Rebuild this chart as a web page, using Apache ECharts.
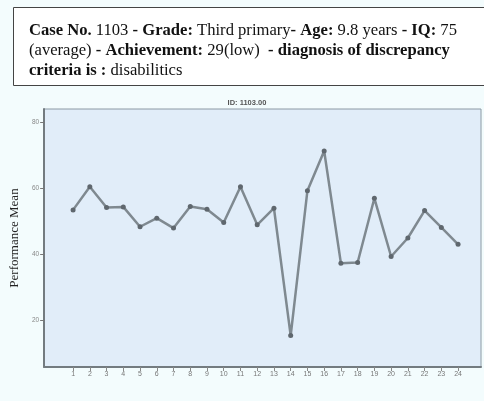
<!DOCTYPE html>
<html><head><meta charset="utf-8">
<script src="https://cdn.jsdelivr.net/npm/echarts@6/dist/echarts.min.js"></script>
<style>html,body{margin:0;padding:0;background:#f3fcfd;}#c{width:484px;height:401px;}</style>
</head><body><div id="c"></div>
<script>
const sessions = [1,2,3,4,5,6,7,8,9,10,11,12,13,14,15,16,17,18,19,20,21,22,23,24];
const performance = [53.5,60.5,54.2,54.4,48.4,51,48,54.5,53.7,49.7,60.5,49,54,15.5,59.3,71.3,37.4,37.6,57,39.4,45,53.3,48.2,43.1];
const yTicks = [20,40,60,80];
const chartTitle = 'ID: 1103.00';
const yName = 'Performance Mean';

const chart = echarts.init(document.getElementById('c'));
const serif = '"Liberation Serif","Times New Roman",serif';
chart.setOption({
  backgroundColor: '#f3fcfd',
  animation: false,
  title: {
    text: chartTitle, left: 242, top: 94, textAlign: 'center',
    textStyle: {fontSize: 7.5, fontWeight: 'bold', color: '#555', fontFamily: 'Arial'}
  },
  graphic: [
    {type: 'rect', shape: {x: 13.5, y: 7.5, width: 480, height: 78},
     style: {fill: '#ffffff', stroke: '#444', lineWidth: 1}},
    {type: 'text', left: 29, top: 21, style: {
      text: '{b|Case No.} 1103 {b|- Grade:} Third primary{b|- Age:} 9.8 years {b|- IQ:} 75\n(average) {b|- Achievement:} 29(low)  {b|- diagnosis of discrepancy}\n{b|criteria is :} disabilitics',
      font: '16.6px ' + serif, fill: '#111', lineHeight: 20,
      rich: {b: {fontWeight: 'bold', fontSize: 16.6, fontFamily: serif, fill: '#111', lineHeight: 20}}
    }}
  ],
  grid: {left: 41, top: 109, right: 3, bottom: 34, show: true,
    backgroundColor: '#e1edf9', borderColor: '#8c9aa4', borderWidth: 1},
  xAxis: {
    type: 'value', min: -0.73, max: 25.37,
    axisLine: {show: true, onZero: false, lineStyle: {color: '#737b80', width: 2}},
    axisTick: {show: true, customValues: sessions, length: 4, lineStyle: {color: '#888'}},
    axisLabel: {customValues: sessions, fontSize: 7, color: '#777', margin: 4, fontFamily: 'Arial'},
    splitLine: {show: false}
  },
  yAxis: {
    type: 'value', min: 6, max: 84,
    name: yName, nameLocation: 'middle', nameGap: 22, nameRotate: 90,
    nameTextStyle: {fontFamily: serif, fontSize: 13, color: '#222'},
    axisLine: {show: true, onZero: false, lineStyle: {color: '#737b80', width: 2}},
    axisTick: {show: true, customValues: yTicks, length: 4, lineStyle: {color: '#777'}},
    axisLabel: {customValues: yTicks, fontSize: 6.5, color: '#888', margin: 5, fontFamily: 'Arial'},
    splitLine: {show: false}
  },
  series: [{
    type: 'line',
    data: sessions.map((s, i) => [s, performance[i]]),
    symbol: 'circle', symbolSize: 5,
    lineStyle: {color: '#7f8990', width: 2.5},
    itemStyle: {color: '#5f676e'}
  }]
});
</script></body></html>
